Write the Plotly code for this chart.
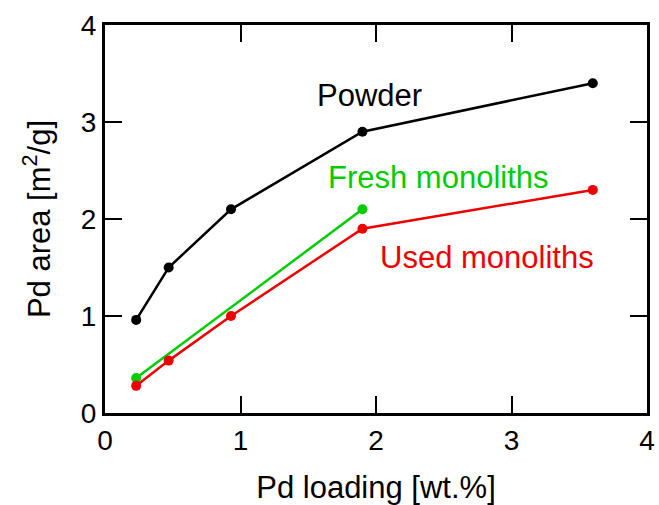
import plotly.graph_objects as go

loading = [0.23, 0.47, 0.93, 1.9, 3.6]
powder = [0.96, 1.5, 2.1, 2.9, 3.4]
fresh_loading = [0.23, 1.9]
fresh = [0.36, 2.1]
used = [0.28, 0.54, 1.0, 1.9, 2.3]

BLACK = "#000000"
GREEN = "#00cc00"
RED = "#ee0000"
FONT = "Liberation Sans, Arial, sans-serif"

fig = go.Figure()
fig.add_scatter(x=loading, y=powder, mode="lines+markers",
                line=dict(color=BLACK, width=2.5), marker=dict(color=BLACK, size=10))
fig.add_scatter(x=fresh_loading, y=fresh, mode="lines+markers",
                line=dict(color=GREEN, width=2.5), marker=dict(color=GREEN, size=10))
fig.add_scatter(x=loading, y=used, mode="lines+markers",
                line=dict(color=RED, width=2.5), marker=dict(color=RED, size=10))

# labels next to curves
fig.add_annotation(x=1.95, y=3.27, text="Powder", showarrow=False,
                   font=dict(color=BLACK, size=31))
fig.add_annotation(x=2.46, y=2.43, text="Fresh monoliths", showarrow=False,
                   font=dict(color=GREEN, size=31))
fig.add_annotation(x=2.82, y=1.60, text="Used monoliths", showarrow=False,
                   font=dict(color=RED, size=31))

axis = dict(showgrid=False, zeroline=False, showline=True, linecolor="black",
            linewidth=3, mirror="ticks", ticks="inside", ticklen=17, tickwidth=2,
            tickcolor="black", tickfont=dict(size=28, color="black"), dtick=1,
            automargin=False)

fig.update_xaxes(range=[0, 4], title=dict(text="Pd loading [wt.%]",
                 font=dict(size=31, color="black"), standoff=24), **axis)
fig.update_yaxes(range=[0, 4], title=dict(text="Pd area [m<sup>2</sup>/g]",
                 font=dict(size=31, color="black"), standoff=21), **axis)

fig.update_layout(width=659, height=505, showlegend=False,
                  plot_bgcolor="white", paper_bgcolor="white",
                  font=dict(family=FONT),
                  margin=dict(l=105, r=12, t=25, b=92))
# drop the default page margin so the figure fills the window
fig.write_html("out.html", config={"displayModeBar": False},
               post_script="document.body.style.margin='0';document.body.style.overflow='hidden';")
